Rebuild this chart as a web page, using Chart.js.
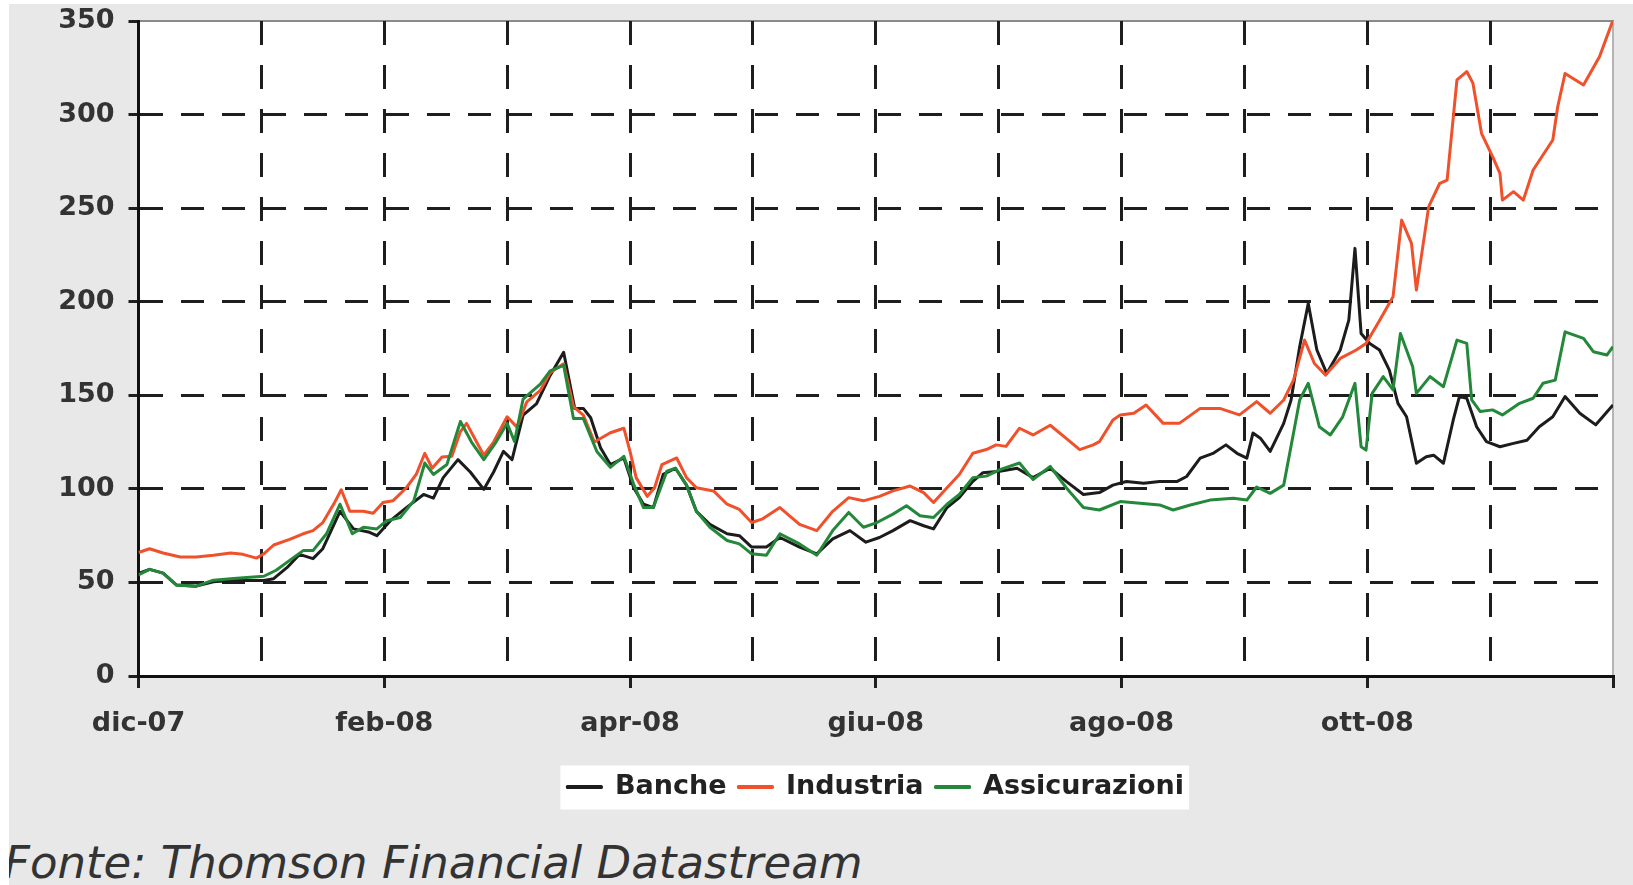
<!DOCTYPE html>
<html lang="it">
<head>
<meta charset="UTF-8">
<title>Banche, Industria, Assicurazioni</title>
<script src="https://cdn.jsdelivr.net/npm/chart.js"></script>
<style>
  html, body { margin: 0; padding: 0; background: #fff; }
  body { width: 1633px; height: 885px; position: relative; overflow: hidden; }
  #fondo { position: absolute; left: 9px; top: 4px; right: 0; bottom: 0; background: #e8e8e8; overflow: hidden; }
  #fonte { position: absolute; left: -5px; top: 836px; font: italic 45px "DejaVu Sans"; line-height: 45px; color: #333; white-space: nowrap; }
  #grafico { position: absolute; left: 0; top: 0; }
</style>
</head>
<body>
<div id="fondo">
  <div id="fonte">Fonte: Thomson Financial Datastream</div>
</div>
<canvas id="grafico" width="1633" height="830"></canvas>

<script>
// etichette dell'asse x (un tick per mese, dic-07 = 0)
const mesi = ['dic-07', '', 'feb-08', '', 'apr-08', '', 'giu-08', '', 'ago-08', '', 'ott-08', '', ''];
const nomi = ['Banche', 'Industria', 'Assicurazioni'];
const colori = ['#1c1c1c', '#f0502a', '#24883a'];

// [mese, valore]
const banche = [
  [0, 54.8], [0.09, 57], [0.2, 55], [0.31, 48.6], [0.47, 48], [0.61, 50.4], [0.75, 51], [0.88, 51],
  [1.02, 51], [1.1, 52], [1.21, 58], [1.31, 65], [1.42, 62.7], [1.5, 68], [1.64, 88], [1.75, 78.6],
  [1.88, 76.8], [1.94, 75], [2.05, 83], [2.18, 90], [2.32, 97], [2.4, 95], [2.48, 106], [2.6, 115.6],
  [2.7, 109], [2.81, 99.7], [2.89, 109], [2.97, 120], [3.04, 115.6], [3.13, 139.4], [3.24, 145.6],
  [3.35, 160.6], [3.46, 173], [3.55, 143], [3.62, 143], [3.68, 138], [3.76, 122], [3.84, 113],
  [3.95, 116.5], [4.03, 100.6], [4.11, 91.8], [4.19, 90], [4.27, 107.7], [4.37, 111], [4.46, 102],
  [4.54, 88], [4.65, 81], [4.79, 76], [4.89, 75], [4.99, 68.9], [5.11, 68.9], [5.22, 74], [5.38, 68.9],
  [5.52, 65.3], [5.65, 73.3], [5.79, 77.7], [5.92, 71.5], [6.03, 74], [6.14, 77.7], [6.28, 83],
  [6.39, 80.3], [6.47, 78.6], [6.58, 90], [6.68, 95.3], [6.79, 104], [6.87, 108.6], [7.01, 109.4],
  [7.15, 111], [7.28, 106], [7.42, 111], [7.55, 104], [7.69, 97], [7.82, 98], [7.93, 102], [8.04, 103.9],
  [8.18, 103], [8.31, 103.9], [8.45, 103.9], [8.53, 106.6], [8.64, 116.4], [8.75, 119.1], [8.85, 123.5],
  [8.94, 119], [9.02, 116.4], [9.07, 129.8], [9.13, 127.1], [9.21, 120], [9.32, 135], [9.38, 147.5],
  [9.45, 175.9], [9.52, 199.1], [9.59, 174.2], [9.67, 161.7], [9.78, 174.2], [9.85, 190.2], [9.9, 228.5],
  [9.95, 183], [10.02, 177.7], [10.1, 174.2], [10.18, 163.4], [10.25, 145.7], [10.32, 138.5], [10.4, 113.7],
  [10.48, 117.2], [10.54, 118], [10.62, 113.7], [10.7, 136.8], [10.75, 149.3], [10.81, 148.4], [10.89, 133.2],
  [10.97, 125.2], [11.08, 122.5], [11.19, 124.3], [11.3, 126], [11.4, 133.2], [11.51, 138.5], [11.61, 149.3],
  [11.73, 140.4], [11.86, 134.2], [12, 144.8]
];

const industria = [
  [0, 66], [0.09, 68], [0.2, 65.7], [0.34, 63.6], [0.47, 63.6], [0.61, 64.5], [0.75, 65.7], [0.85, 65],
  [0.96, 63], [1.02, 65.3], [1.1, 70], [1.23, 73], [1.34, 76], [1.42, 77.7], [1.5, 82], [1.59, 92],
  [1.65, 99.5], [1.72, 88], [1.83, 88], [1.91, 87], [1.99, 92.7], [2.07, 93.6], [2.18, 100.6], [2.26, 107.7],
  [2.33, 119], [2.39, 111], [2.47, 117], [2.55, 117.4], [2.62, 130.6], [2.67, 135], [2.81, 118], [2.89, 125],
  [3, 138.5], [3.08, 133], [3.16, 146.5], [3.27, 152.6], [3.35, 162], [3.46, 166.8], [3.54, 144], [3.62, 139.4],
  [3.71, 125], [3.84, 130], [3.95, 132.4], [4, 120], [4.05, 106], [4.14, 96], [4.2, 100.6], [4.26, 113],
  [4.38, 116.5], [4.46, 106], [4.54, 100.6], [4.68, 98.9], [4.79, 91.8], [4.89, 89], [4.99, 82], [5.08, 84],
  [5.22, 90], [5.38, 81], [5.52, 77.7], [5.65, 88], [5.78, 95.3], [5.9, 93.6], [6.03, 96], [6.14, 98.9],
  [6.28, 101.5], [6.39, 98], [6.47, 92.7], [6.58, 100.6], [6.68, 107.7], [6.79, 119], [6.9, 121], [6.98, 123.5],
  [7.06, 122.7], [7.17, 132.4], [7.28, 128.8], [7.42, 134], [7.55, 127], [7.66, 121], [7.77, 123.5],
  [7.82, 125.2], [7.93, 136.8], [7.99, 139.5], [8.1, 140.4], [8.2, 144.8], [8.34, 135], [8.47, 135],
  [8.64, 143], [8.8, 143], [8.96, 139.5], [9.1, 146.6], [9.21, 140.4], [9.32, 147.5], [9.4, 158.1],
  [9.49, 179.5], [9.57, 167], [9.66, 160.8], [9.78, 169.7], [9.91, 174.2], [9.99, 177.7], [10.1, 190],
  [10.21, 202.7], [10.28, 243.6], [10.36, 231.2], [10.4, 206.2], [10.5, 250.8], [10.59, 263.3], [10.65, 265],
  [10.73, 318.5], [10.81, 323], [10.86, 316.8], [10.93, 290], [11.02, 277.5], [11.08, 268.6], [11.1, 254.3],
  [11.19, 258.8], [11.27, 254.3], [11.35, 270.4], [11.51, 286.4], [11.55, 304.2], [11.61, 322], [11.76, 315.8],
  [11.89, 330.9], [12, 350.5]
];

const assicurazioni = [
  [0, 54], [0.09, 57], [0.2, 55], [0.31, 48.6], [0.47, 48], [0.61, 51.2], [0.75, 52], [0.88, 52.6],
  [1.02, 53.3], [1.12, 56.5], [1.23, 61.8], [1.34, 67], [1.42, 67], [1.53, 76], [1.64, 91.8], [1.74, 76],
  [1.83, 79.5], [1.94, 78.6], [2.02, 83], [2.13, 84.7], [2.24, 93.6], [2.33, 113.8], [2.4, 107.7], [2.51, 113],
  [2.62, 136], [2.71, 125], [2.81, 115.6], [2.91, 125], [3, 135], [3.06, 125.3], [3.13, 148], [3.27, 156],
  [3.35, 163], [3.46, 166], [3.54, 137.6], [3.62, 137.6], [3.73, 120], [3.84, 111.5], [3.95, 117.4],
  [4.03, 102.4], [4.11, 90], [4.19, 90], [4.3, 109.4], [4.37, 111], [4.46, 102], [4.54, 88], [4.65, 79.5],
  [4.79, 72.4], [4.89, 70.6], [4.99, 65.3], [5.11, 64.5], [5.22, 76], [5.38, 70.6], [5.52, 64.5], [5.65, 77.7],
  [5.78, 87.4], [5.9, 79.5], [6.01, 82], [6.14, 86.5], [6.25, 91], [6.36, 85.6], [6.47, 84.7], [6.58, 91.8],
  [6.68, 97], [6.79, 106], [6.9, 106.8], [7.01, 110.3], [7.17, 113.8], [7.28, 105], [7.42, 112], [7.55, 100.6],
  [7.69, 90], [7.82, 88.7], [7.99, 93.2], [8.15, 92.3], [8.31, 91.4], [8.42, 88.7], [8.56, 91.4], [8.72, 94],
  [8.91, 95], [9.02, 94], [9.1, 101], [9.21, 97.6], [9.32, 102], [9.4, 129.8], [9.45, 147.5], [9.52, 156.4],
  [9.61, 133.2], [9.7, 128.8], [9.8, 138.5], [9.9, 156.4], [9.95, 122.5], [9.99, 120.7], [10.04, 151],
  [10.13, 160], [10.21, 152.9], [10.27, 183], [10.37, 165.2], [10.4, 151], [10.51, 160], [10.62, 154.6],
  [10.73, 179.5], [10.81, 177.7], [10.85, 147.5], [10.92, 141.3], [11.02, 142.2], [11.1, 139.5], [11.24, 145.7],
  [11.35, 148.4], [11.43, 156.4], [11.53, 158.1], [11.61, 183.9], [11.76, 180.4], [11.84, 173.3], [11.95, 171.5],
  [12, 176]
];

const serie = [banche, industria, assicurazioni];

Chart.defaults.font.family = '"DejaVu Sans", Verdana, sans-serif';

// area del grafico bianca, cornice grigia e riquadro bianco della legenda
const sfondo = {
  id: 'sfondo',
  beforeDraw(chart) {
    const { ctx, chartArea: a, legend } = chart;
    ctx.save();
    ctx.fillStyle = '#fff';
    ctx.fillRect(a.left, a.top, a.right - a.left, a.bottom - a.top);
    const hb = legend && legend.legendHitBoxes;
    if (hb && hb.length) {
      const l = Math.min(...hb.map(h => h.left)) - 7;
      const r = Math.max(...hb.map(h => h.left + h.width)) + 5;
      const t = hb[0].top - 8;
      ctx.fillRect(l, t, r - l, hb[0].height + 17);
    }
    ctx.lineWidth = 2;
    ctx.strokeStyle = '#8a8a8a';
    ctx.beginPath();
    ctx.moveTo(a.left, a.top);
    ctx.lineTo(a.right + 1, a.top);
    ctx.stroke();
    ctx.strokeStyle = '#b4b4b4';
    ctx.beginPath();
    ctx.moveTo(a.right, a.top);
    ctx.lineTo(a.right, a.bottom);
    ctx.stroke();
    ctx.restore();
  }
};

const trasparente = 'rgba(0,0,0,0)';
const nero = '#1e1e1e';

new Chart(document.getElementById('grafico'), {
  type: 'line',
  data: {
    datasets: serie.map((s, i) => ({
      label: nomi[i],
      data: s.map(p => ({ x: p[0], y: p[1] })),
      borderColor: colori[i],
      backgroundColor: colori[i],
      borderWidth: 3,
      pointRadius: 0,
      tension: 0,
      borderJoinStyle: 'round',
      order: 2 - i
    }))
  },
  options: {
    responsive: false,
    animation: false,
    devicePixelRatio: 1,
    layout: { padding: { left: 0, right: 20, top: 21, bottom: 19.5 } },
    plugins: {
      tooltip: { enabled: false },
      legend: {
        position: 'bottom',
        fullSize: false,
        align: 'center',
        labels: {
          boxWidth: 34,
          boxHeight: 1,
          padding: 12,
          color: '#222',
          font: { size: 27, weight: 'bold' },
          sort: (a, b) => a.datasetIndex - b.datasetIndex
        }
      }
    },
    scales: {
      x: {
        type: 'linear',
        min: 0,
        max: 12,
        afterFit: s => { s.height = 85.5; },
        ticks: {
          stepSize: 1,
          autoSkip: false,
          maxRotation: 0,
          padding: 20,
          color: '#333',
          font: { size: 27, weight: 'bold' },
          callback: v => mesi[v] || ''
        },
        grid: {
          lineWidth: 3,
          color: c => (c.tick && (c.tick.value === 0 || c.tick.value === 12)) ? trasparente : nero,
          tickLength: 12,
          tickWidth: 3,
          tickColor: c => (c.tick && c.tick.value % 2 === 0) ? nero : trasparente
        },
        border: { color: '#111', width: 3, dash: [24, 20] }
      },
      y: {
        min: 0,
        max: 350,
        afterFit: s => { s.width = 138.5; s.paddingTop = 0; s.paddingBottom = 0; },
        ticks: {
          stepSize: 50,
          padding: 14,
          color: '#333',
          font: { size: 27, weight: 'bold' }
        },
        grid: {
          lineWidth: 3,
          color: c => (c.tick && (c.tick.value === 0 || c.tick.value === 350)) ? trasparente : nero,
          tickLength: 10,
          tickWidth: 3,
          tickColor: nero
        },
        border: { color: '#111', width: 3, dash: [23, 18] }
      }
    }
  },
  plugins: [sfondo]
});
</script>
</body>
</html>
